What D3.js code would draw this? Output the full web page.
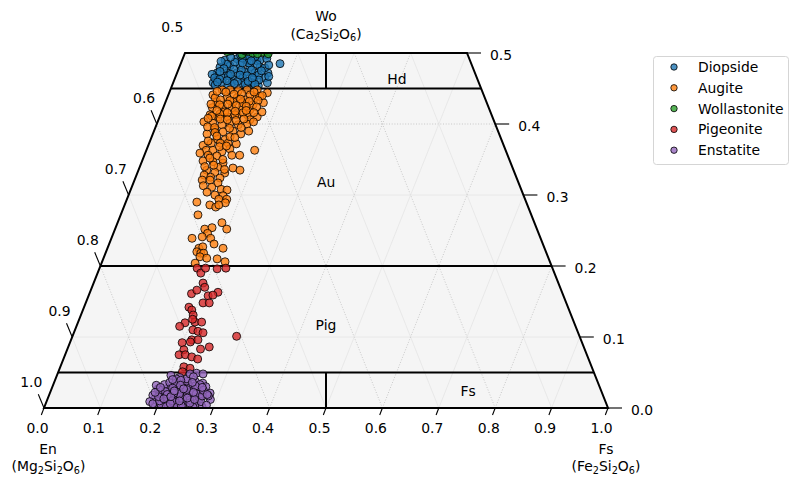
<!DOCTYPE html>
<html>
<head>
<meta charset="utf-8">
<script src="https://cdn.jsdelivr.net/npm/d3@7"></script>
<style>
  body { margin: 0; background: #fff; }
  text { font-family: "DejaVu Sans", sans-serif; font-size: 13.9px; fill: #000; }
</style>
</head>
<body>
<script>
// legend order = draw order
const seriesNames = ["Diopside", "Augite", "Wollastonite", "Pigeonite", "Enstatite"];
const seriesColors = ["#1f77b4", "#ff7f0e", "#2ca02c", "#d62728", "#9467bd"];

// each point is [Wo %, Fs %]  (En = 100 - Wo - Fs)
const diopside = [
  [49.7,14.7],[48.5,17.6],[49.0,7.6],[49.2,9.6],[49.0,11.5],[48.9,13.3],[48.0,7.2],[48.2,8.9],
  [48.3,10.6],[48.0,12.5],[48.0,14.3],[47.2,7.1],[47.2,8.9],[47.2,10.6],[47.3,12.0],[47.2,13.8],
  [47.2,16.1],[46.2,7.4],[46.5,8.5],[46.3,10.3],[46.5,12.0],[46.2,14.0],[46.5,15.9],[45.8,7.1],
  [45.8,8.7],[45.8,10.4],[45.8,12.2],[45.8,14.0],[45.8,16.7],[47.0,6.3],[45.5,7.6],[48.7,9.5],
  [49.6,11.4],[49.0,13.8],[45.4,9.9],[45.2,13.4],[45.4,15.3],[46.5,7.0],[47.6,11.2],[46.9,14.6],
  [48.6,12.0],[46.0,11.3],[47.7,9.8],[45.6,12.9],[49.3,10.5],[46.8,9.3],[47.9,15.2],[48.4,8.2],
  [49.4,8.4],[49.5,12.7],[49.2,14.9],[48.8,7.0],[48.6,10.9],[48.4,13.6],[48.3,15.7],[47.8,8.0],
  [47.6,13.0],[47.5,14.8],[47.0,9.6],[46.9,11.3],[46.8,12.6],[46.7,16.5],[46.3,8.0],[46.1,9.4],
  [46.0,13.2],[46.2,15.0],[45.7,10.9],[45.6,14.6],[45.9,7.8],[48.9,12.3],[47.4,7.5],[49.7,10.0],
  [46.5,13.7]
];
const augite = [
  [44.1,7.9],[44.8,9.2],[44.8,10.6],[44.7,12.1],[44.8,13.6],[44.8,15.4],[44.4,17.4],[43.1,9.1],
  [43.7,10.6],[43.7,12.4],[43.4,14.0],[43.7,15.6],[43.0,17.4],[42.3,8.7],[42.4,10.4],[42.3,12.2],
  [42.3,14.0],[42.0,15.5],[41.3,8.8],[41.0,10.4],[41.0,12.1],[41.3,13.6],[41.3,15.4],[41.0,17.3],
  [41.7,17.8],[44.2,11.6],[44.1,14.5],[43.0,13.6],[41.7,11.2],[42.7,15.7],[43.7,8.5],[43.9,16.3],
  [43.1,12.0],[40.3,8.2],[41.1,9.2],[41.4,10.5],[41.6,11.7],[41.3,13.2],[41.6,14.5],[40.6,16.2],
  [40.1,9.9],[39.9,11.6],[40.1,12.9],[39.9,14.5],[40.0,16.0],[38.6,9.6],[39.2,10.7],[38.9,12.3],
  [39.0,14.0],[38.6,15.6],[39.0,16.8],[37.9,11.7],[37.8,13.2],[37.3,11.0],[37.3,12.6],[37.3,14.0],
  [37.2,15.5],[37.0,9.7],[36.3,10.6],[36.3,11.8],[36.1,13.5],[36.5,14.7],[36.3,19.2],[35.9,9.7],
  [35.6,11.3],[35.5,12.9],[35.6,15.5],[35.6,16.9],[34.8,10.8],[34.7,12.6],[34.5,14.5],[33.9,13.9],
  [33.8,16.6],[33.5,18.0],[33.5,12.1],[33.2,13.7],[33.1,15.5],[32.8,12.0],[32.5,13.3],[32.4,15.0],
  [32.1,12.0],[32.1,13.4],[31.7,15.0],[31.1,14.2],[30.8,16.0],[31.3,12.6],[30.7,17.1],[30.4,13.7],
  [30.0,15.3],[29.9,16.8],[29.4,16.3],[29.4,17.7],[29.0,12.6],[28.6,15.1],[28.3,16.3],[28.9,17.7],
  [28.6,16.7],[27.2,13.7],[26.1,18.5],[25.2,19.8],[25.2,15.9],[25.4,17.1],[24.6,16.7],[23.9,14.3],
  [24.1,16.0],[23.9,17.6],[23.1,18.6],[22.5,16.2],[22.7,16.8],[22.5,20.5],[22.0,16.1],[21.8,16.9],
  [21.8,17.4],[21.3,17.0],[21.1,18.3],[21.0,20.2],[20.6,21.8],[20.4,16.6],
  [44.6,8.4],[44.5,10.0],[44.3,12.9],[44.5,15.0],[44.0,16.7],[43.4,9.6],[43.3,11.3],[43.5,13.1],
  [43.2,14.8],[43.3,16.3],[42.8,8.2],[42.7,9.8],[42.8,11.2],[42.6,12.8],[42.5,14.6],[42.4,16.5],
  [41.9,9.7],[41.8,13.0],[41.9,14.9],[41.6,16.4],[40.8,8.7],[40.7,10.9],[40.6,12.2],[40.5,13.8],
  [40.7,15.1],[40.3,17.0],[39.6,9.2],[39.5,10.5],[39.4,13.2],[39.5,15.2],[38.8,10.9],[38.3,11.5],
  [38.2,13.9],[38.1,14.8],[37.6,10.3],[36.8,12.7],[36.9,13.9],[35.2,11.8],[34.2,13.0],[34.0,11.5],
  [35.0,14.2],[33.6,15.2]
];
const wollastonite = [
  [50.3,8.0],[50.5,9.5],[50.2,11.0],[50.6,12.5],[50.1,13.8],[50.4,15.0],[49.8,10.2],[50.8,8.8],
  [50.0,12.0],[50.7,14.3],[49.9,14.8],[50.3,10.5],[50.2,7.4],[49.9,12.9]
];
const pigeonite = [
  [19.7,17.3],[19.0,18.3],[19.7,18.8],[19.6,20.9],[19.7,22.4],[17.6,19.4],[17.0,20.0],[16.1,18.1],
  [16.6,18.8],[15.8,21.2],[16.3,22.7],[15.9,22.0],[14.8,20.8],[14.8,21.9],[14.2,18.6],[13.8,19.3],
  [13.1,19.9],[12.0,19.0],[11.5,18.3],[12.1,20.7],[12.1,21.9],[11.0,20.9],[10.8,21.9],[10.6,22.9],
  [9.6,21.4],[9.6,22.5],[10.1,29.1],[9.2,19.9],[8.3,23.6],[8.6,25.0],[8.2,20.7],[7.5,20.2],
  [7.5,21.3],[7.2,22.6],[6.9,23.8],[5.8,21.9],[5.6,23.1],[5.1,22.0],[12.5,20.1],[9.3,21.3]
];
const enstatite = [
  [0.4,19.5],[0.8,21.0],[0.3,22.4],[0.6,23.8],[0.2,25.1],[0.9,26.3],[0.5,24.4],[1.2,19.0],
  [1.5,20.3],[1.1,21.7],[1.4,22.9],[1.0,24.2],[1.6,25.6],[1.3,27.0],[1.8,18.4],[2.0,19.8],
  [2.2,21.2],[1.9,22.5],[2.3,23.6],[2.1,24.9],[2.4,26.2],[2.0,27.6],[2.7,18.9],[2.8,20.6],
  [2.6,22.0],[3.0,23.2],[2.9,24.5],[2.7,25.8],[3.1,21.4],[3.3,19.7],[3.4,22.8],[3.2,24.1],
  [3.6,20.5],[3.8,23.4],[4.3,21.9],[4.6,20.2],[4.9,24.6],[0.7,20.1],[1.7,23.3],[2.5,19.4],
  [1.5,26.8],[0.2,27.9],[3.5,26.4],[0.9,18.3],[2.1,28.4],[1.2,28.9],[0.5,21.3],[1.8,24.5],
  [2.6,23.0],[1.4,21.2],[0.8,22.8],[2.3,20.4],[3.0,27.2],[0.3,26.6],[1.9,20.9],[2.9,22.1],
  [1.1,25.3],[2.4,25.1],[0.6,19.0],[3.7,25.0],[4.1,23.3],[0.4,23.0],[2.0,26.0],[1.3,23.9],
  [3.3,26.0],[4.8,25.8],[4.8,23.5],[4.1,21.4],[3.2,18.3],[1.7,28.3],[0.1,26.4],
  [0.5,20.5],[1.0,20.0],[1.6,19.5],[2.2,18.6],[2.9,19.2],[3.5,21.6],[3.9,22.3],[4.4,24.3],
  [0.7,25.5],[1.4,24.7],[2.6,24.0],[3.1,25.3],[0.9,27.4],[1.7,27.2],[2.5,27.0],[0.2,21.6],
  [1.0,22.3],[2.0,23.0],[2.8,21.4],[3.6,24.5],[1.3,20.6],[2.1,22.0],[0.6,22.1],[1.6,21.7],
  [2.4,21.9],[3.2,22.6],[0.3,24.2],[1.2,26.1],[2.2,25.4],[2.9,26.6],[4.0,20.8],[0.4,28.6],
  [1.9,28.0],[1.0,23.5],[2.7,23.4]
];
const seriesData = [diopside, augite, wollastonite, pigeonite, enstatite];

const bottomTicks = [0, 0.1, 0.2, 0.3, 0.4, 0.5, 0.6, 0.7, 0.8, 0.9, 1.0];   // Fs
const rightTicks = [0, 0.1, 0.2, 0.3, 0.4, 0.5];                           // Wo
const leftTicks = [0.5, 0.6, 0.7, 0.8, 0.9, 1.0];                          // En
const gridValues = [0.1, 0.2, 0.3, 0.4, 0.5, 0.6, 0.7, 0.8, 0.9];

// field boundaries (Wo levels) and field names, [Wo, Fs] in fractions
const fieldLevels = [0.45, 0.2, 0.05];
const fieldLabels = [
  { name: "Di", wo: 0.4634, fs: 0.1426 },
  { name: "Hd", wo: 0.4634, fs: 0.394 },
  { name: "Au", wo: 0.3183, fs: 0.341 },
  { name: "Pig", wo: 0.1169, fs: 0.4415 },
  { name: "En", wo: 0.0239, fs: 0.236 },
  { name: "Fs", wo: 0.0239, fs: 0.740 }
];

const width = 798, height = 488;
const sx = d3.scaleLinear().domain([0, 1]).range([44, 608]);
const sy = d3.scaleLinear().domain([0, 0.5]).range([408, 53]);
const pt = (wo, fs) => [sx(fs + wo / 2), sy(wo)];

const svg = d3.select("body").append("svg")
  .attr("width", width)
  .attr("height", height);

const corners = [pt(0, 0), pt(0, 1), pt(0.5, 0.5), pt(0.5, 0)];
const cornerStr = corners.map(p => p.join(",")).join(" ");

svg.append("clipPath").attr("id", "tri")
  .append("polygon").attr("points", cornerStr);

svg.append("polygon").attr("points", cornerStr).attr("fill", "#f5f5f5");

// grid
const grid = svg.append("g");
function gridLine(a, b, major) {
  grid.append("line")
    .attr("x1", a[0]).attr("y1", a[1]).attr("x2", b[0]).attr("y2", b[1])
    .attr("stroke", major ? "#bdbdbd" : "#e4e4e4")
    .attr("stroke-width", 0.8)
    .attr("stroke-dasharray", major ? "1,1.7" : null);
}
gridValues.forEach(v => {
  const major = Math.round(v * 10) % 2 === 0;
  const top = Math.min(0.5, 1 - v);
  gridLine(pt(0, v), pt(top, v), major);                 // const Fs
  gridLine(pt(0, 1 - v), pt(top, 1 - v - top), major);   // const En
  if (v < 0.5) gridLine(pt(v, 0), pt(v, 1 - v), major);  // const Wo
});

// field labels (Di and En end up under the points)
svg.append("g").selectAll("text").data(fieldLabels).join("text")
  .attr("x", d => pt(d.wo, d.fs)[0])
  .attr("y", d => pt(d.wo, d.fs)[1])
  .attr("dy", "0.36em")
  .attr("text-anchor", "middle")
  .text(d => d.name);

// field boundaries
const bounds = svg.append("g").attr("stroke", "#000").attr("stroke-width", 2);
fieldLevels.forEach(w => {
  const a = pt(w, 0), b = pt(w, 1 - w);
  bounds.append("line").attr("x1", a[0]).attr("y1", a[1]).attr("x2", b[0]).attr("y2", b[1]);
});
[[0.45, 0.5], [0, 0.05]].forEach(([w0, w1]) => {
  const a = pt(w0, (1 - w0) / 2), b = pt(w1, (1 - w1) / 2);
  bounds.append("line").attr("x1", a[0]).attr("y1", a[1]).attr("x2", b[0]).attr("y2", b[1]);
});

// points
const pts = svg.append("g").attr("clip-path", "url(#tri)");
seriesData.forEach((data, i) => {
  pts.append("g").selectAll("circle").data(data).join("circle")
    .attr("cx", d => pt(d[0] / 100, d[1] / 100)[0])
    .attr("cy", d => pt(d[0] / 100, d[1] / 100)[1])
    .attr("r", 4)
    .attr("fill", seriesColors[i])
    .attr("fill-opacity", 0.8)
    .attr("stroke", "#000")
    .attr("stroke-opacity", 0.8)
    .attr("stroke-width", 1);
});

// outline
svg.append("polygon")
  .attr("points", cornerStr)
  .attr("fill", "none")
  .attr("stroke", "#000")
  .attr("stroke-width", 2);

// ticks
const ticks = svg.append("g");
function tick(a, dx, dy) {
  ticks.append("line")
    .attr("x1", a[0]).attr("y1", a[1]).attr("x2", a[0] + dx).attr("y2", a[1] + dy)
    .attr("stroke", "#000").attr("stroke-width", 1.1);
}
bottomTicks.forEach(v => {
  const p = pt(0, v);
  tick(p, -2.7, 7);
  ticks.append("text").attr("x", p[0] - 6.5).attr("y", 433)
    .attr("text-anchor", "middle").text(v.toFixed(1));
});
rightTicks.forEach(v => {
  const p = pt(v, 1 - v);
  tick(p, 14, 0);
  ticks.append("text").attr("x", p[0] + 23).attr("y", p[1] + 7)
    .attr("text-anchor", "start").text(v.toFixed(1));
});
leftTicks.forEach(v => {
  const p = pt(1 - v, 0);
  if (v > 0.5) tick(p, -5.7, -13.7);
  ticks.append("text").attr("x", p[0] - 12.7).attr("y", p[1] - 20.7)
    .attr("text-anchor", "middle").text(v.toFixed(1));
});

// axis titles, subscripts as shifted tspans
function formula(x, y, parts) {
  const t = svg.append("text").attr("x", x).attr("y", y).attr("text-anchor", "middle");
  parts.forEach((p, i) => {
    const sub = p.startsWith("_");
    const s = t.append("tspan").text(p.replace("_", ""));
    if (sub) s.attr("font-size", "9.7px").attr("dy", 2.5);
    else if (i > 0 && parts[i - 1].startsWith("_")) s.attr("dy", -2.5);
  });
}
svg.append("text").attr("x", 326).attr("y", 21).attr("text-anchor", "middle").text("Wo");
formula(326, 38.5, ["(Ca", "_2", "Si", "_2", "O", "_6", ")"]);
svg.append("text").attr("x", 48).attr("y", 454).attr("text-anchor", "middle").text("En");
formula(48.5, 471, ["(Mg", "_2", "Si", "_2", "O", "_6", ")"]);
svg.append("text").attr("x", 606).attr("y", 454).attr("text-anchor", "middle").text("Fs");
formula(606, 471, ["(Fe", "_2", "Si", "_2", "O", "_6", ")"]);

// legend
const lg = svg.append("g");
lg.append("rect")
  .attr("x", 653.5).attr("y", 56.5).attr("width", 135).attr("height", 108)
  .attr("rx", 3).attr("fill", "#fff").attr("fill-opacity", 0.8)
  .attr("stroke", "#d5d5d5").attr("stroke-width", 1);
seriesNames.forEach((name, i) => {
  const y = 67 + i * 20.8;
  lg.append("circle").attr("cx", 674).attr("cy", y).attr("r", 3.2)
    .attr("fill", seriesColors[i]).attr("fill-opacity", 0.8)
    .attr("stroke", "#000").attr("stroke-opacity", 0.8);
  lg.append("text").attr("x", 698).attr("y", y + 5).text(name);
});
</script>
</body>
</html>
